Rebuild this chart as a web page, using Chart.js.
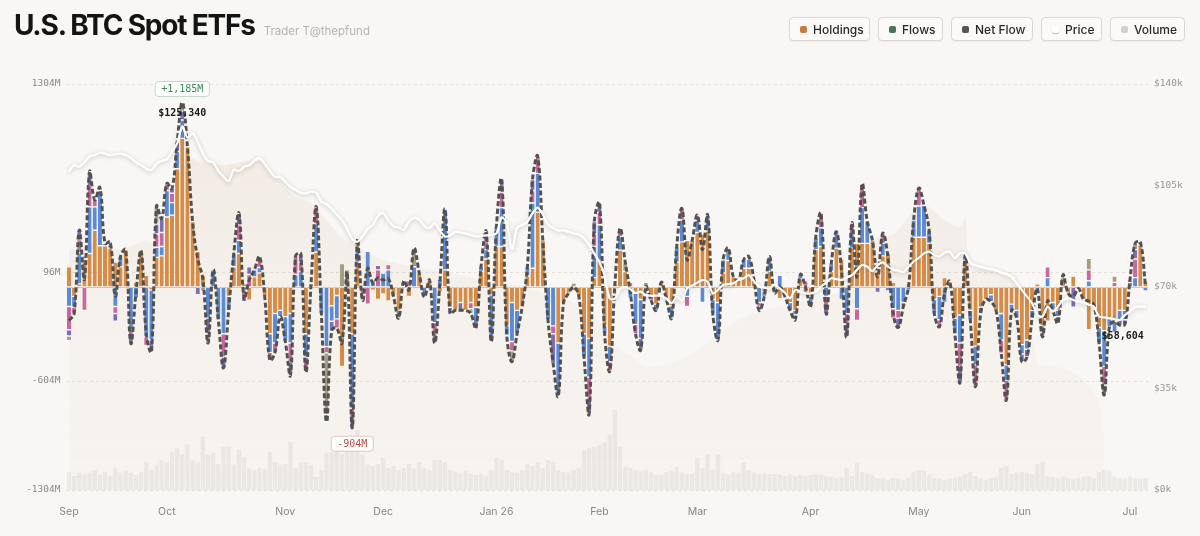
<!DOCTYPE html>
<html><head><meta charset="utf-8">
<script src="https://cdn.jsdelivr.net/npm/chart.js@4.4.1/dist/chart.umd.min.js"></script>
<style>
html,body{margin:0;padding:0;background:#f8f7f5;width:1200px;height:536px;overflow:hidden;font-family:Inter,"Noto Sans",sans-serif;}
#wrap{position:relative;width:1200px;height:536px;}
#c{position:absolute;left:0;top:0;}
.title{position:absolute;left:14px;top:9px;display:flex;align-items:baseline;white-space:nowrap;}
.title h1{margin:0;font:700 28px/1.2 Inter,sans-serif;letter-spacing:-1.2px;color:#141414;}
.title span{margin-left:9px;font:400 11.5px Inter,sans-serif;color:#b7b3ad;}
.legend{position:absolute;top:17px;left:789px;display:flex;gap:8px;}
.btn{box-sizing:border-box;height:24px;border:1px solid #dcd8d2;border-radius:4px;background:#fbfaf8;display:flex;align-items:center;padding:0 0 0 10px;font:500 12px Inter,sans-serif;color:#2a2a2a;box-shadow:0 1px 1px rgba(0,0,0,.05);}
.sw{width:7px;height:7px;border-radius:2px;margin-right:6px;}
</style></head>
<body><div id="wrap">
<canvas id="c" width="1200" height="536"></canvas>
<div class="title"><h1>U.S. BTC Spot ETFs</h1><span>Trader T@thepfund</span></div>
<div class="legend">
 <div class="btn" style="width:81px"><i class="sw" style="background:#c97b3d"></i>Holdings</div>
 <div class="btn" style="width:65px"><i class="sw" style="background:#3d7a55"></i>Flows</div>
 <div class="btn" style="width:82px"><i class="sw" style="background:#575551"></i>Net Flow</div>
 <div class="btn" style="width:61px"><i class="sw" style="background:#fff;box-shadow:0 1px 1px rgba(0,0,0,.25)"></i>Price</div>
 <div class="btn" style="width:75px"><i class="sw" style="background:#d3d0ca"></i>Volume</div>
</div>
</div>
<script>
// ---- axis / tick data ----
const monthStarts = [0,19,42,61,83,103,122,144,165,185,206];
const monthLabels = ['Sep','Oct','Nov','Dec','Jan 26','Feb','Mar','Apr','May','Jun','Jul'];
const flowTicks = [1304, 96, -604, -1304];
const priceTicks = [0, 35000, 70000, 105000, 140000];

// ---- daily flows by fund ($M) ----
const ibit = [130,-60,20,180,215,365,265,265,250,160,
130,240,0,30,233,75,-20,190,200,450,
462,760,955,900,420,230,75,0,0,0,
0,-60,130,215,20,-85,65,90,-60,-300,
-170,-150,-190,-170,0,0,-300,20,225,0,
0,-120,-55,-510,-20,-300,160,0,0,-20,
-80,-45,-90,-60,-150,10,-60,0,90,0,
45,0,-30,110,-130,-150,-100,-150,-100,-130,
100,180,-50,260,260,-250,-100,-150,-125,70,
120,480,300,0,0,-360,-105,-40,-25,-60,
-300,-330,60,170,-250,-380,20,237,100,30,
-40,-80,-30,-60,-110,30,-80,-120,160,290,
300,300,350,340,360,-80,-100,90,170,65,
45,120,120,45,0,-30,100,-20,-75,-60,
-100,-150,50,-40,-60,240,260,0,100,250,
180,0,250,280,280,280,300,100,200,220,
30,0,0,20,320,320,320,280,-80,-60,
60,35,-200,-180,170,-150,-380,-130,-80,-50,
-150,-170,-500,-110,-150,-370,-340,-150,20,-250,
-220,-100,-150,60,-40,70,-10,-80,-275,-125,
-260,-280,-200,-220,-150,-150,0,0,270,38];
const fbtc = [-125,-70,200,20,300,150,355,15,20,-125,
65,0,-275,-70,0,-320,-320,65,60,170,
80,110,118,0,0,0,0,-200,95,-210,
-300,-90,85,85,-20,0,45,35,0,-120,
-190,-40,-160,-190,80,100,-150,0,180,-170,
-383,-100,-150,0,0,-480,80,0,230,45,
0,90,110,0,-50,0,0,130,0,-55,
0,-230,50,390,-20,0,0,0,0,-135,
30,60,-300,130,250,-60,-250,-150,0,60,
420,250,0,-210,-250,-340,0,0,0,0,
-150,-250,200,230,-50,-100,0,85,0,-70,
-200,-250,0,0,-40,0,0,-80,100,140,
-60,0,80,-100,102,-90,-240,85,80,0,
0,55,60,0,-100,-30,95,-20,75,0,
-50,-30,30,0,-65,80,120,-60,50,105,
-80,-170,90,-140,230,140,0,0,80,-25,
-140,-150,-100,-20,110,200,205,85,-90,-150,
-100,0,-100,-180,30,-60,-120,-40,0,-45,
0,-170,-100,-40,-50,-60,-60,-50,-30,-40,
60,-50,-40,17,0,0,0,0,40,0,
-100,-230,-55,-72,-60,-60,30,60,20,-25];
const arkb = [-150,-40,85,-150,135,45,0,0,0,-45,
0,0,-45,0,0,-55,0,85,90,45,
60,0,0,0,0,0,0,0,15,0,
-150,0,0,100,-40,80,0,70,0,-50,
-60,0,0,-120,120,60,-95,0,110,0,
-40,0,-60,0,0,-74,0,-50,-110,0,
110,0,35,0,0,30,40,0,0,0,
0,-70,0,0,-20,0,0,0,-40,0,
0,50,0,0,100,0,-60,0,0,0,
80,110,0,0,-50,0,0,0,0,0,
0,-130,80,80,0,-60,0,55,0,0,
-60,0,0,0,0,0,0,0,0,75,
-65,0,32,0,0,0,0,0,0,0,
0,0,15,0,-25,0,0,0,0,0,
0,-30,0,40,0,0,93,-60,0,0,
0,-70,70,-75,150,0,0,0,65,0,
-60,-50,-25,0,0,115,0,0,0,-45,
0,0,0,-150,0,0,-140,0,0,0,
0,-85,-125,0,0,0,0,0,0,-30,
70,0,-43,0,0,0,0,0,70,10,
0,-120,0,30,0,0,15,120,0,0];
const bitb = [-40,0,60,0,90,0,20,0,20,-50,
0,0,-40,0,0,0,-75,65,90,0,
30,60,55,0,0,-50,0,-100,0,0,
-70,0,0,73,-33,50,0,0,0,0,
0,0,0,-85,0,55,0,0,0,0,
0,-60,0,0,0,-50,0,-35,0,0,
30,0,0,0,0,0,0,0,0,0,
0,-60,0,0,0,0,-50,0,0,0,
0,65,0,0,80,0,0,0,0,0,
70,0,0,0,-190,0,0,0,0,0,
0,-100,80,60,0,0,0,0,0,0,
0,-75,0,-25,0,0,0,0,0,0,
0,0,0,0,0,0,0,0,0,0,
0,0,0,0,-25,0,0,0,0,0,
0,0,0,0,0,0,0,-50,0,0,
0,-80,0,0,0,0,0,-35,0,0,
0,-60,0,0,0,0,0,0,0,0,
0,0,0,-100,0,0,0,0,0,0,
0,0,0,0,0,-50,-50,0,0,0,
0,0,0,0,0,-130,0,0,0,0,
0,0,0,0,-35,-30,0,60,0,0];
const gbtc = [-30,0,0,0,0,0,0,0,0,0,
0,0,0,0,0,0,0,115,0,0,
0,0,57,0,0,0,-25,-60,0,0,
0,0,0,0,0,0,0,0,0,0,
0,0,0,0,0,0,0,0,0,0,
-397,0,0,150,110,0,60,0,0,0,
0,0,0,0,0,0,0,120,0,-10,
0,0,0,0,0,0,0,0,-30,0,
0,0,0,0,0,0,-70,0,0,0,
0,0,0,0,0,0,0,0,25,0,
0,0,0,0,0,0,0,0,60,0,
0,0,30,0,0,0,0,0,0,0,
0,0,0,0,0,0,0,0,0,0,
0,0,0,0,0,0,0,0,0,0,
0,0,0,0,0,0,0,0,0,0,
0,0,0,0,0,0,0,0,0,0,
0,0,0,0,0,0,0,0,0,0,
0,0,0,0,0,0,0,0,0,0,
0,0,0,0,0,0,0,0,0,0,
0,0,0,0,0,0,0,0,75,0,
0,0,0,40,0,0,0,40,0,0];
const others = [0,0,0,0,0,0,0,0,0,0,
0,0,0,0,0,0,0,0,0,0,
0,0,0,0,0,0,0,0,0,0,
0,0,0,0,0,0,0,0,0,0,
0,0,0,0,0,0,0,0,0,0,
-45,0,0,0,0,0,0,0,0,0,
0,0,0,0,0,0,0,0,0,0,
0,0,0,0,0,0,0,0,0,0,
0,0,0,0,0,0,0,0,0,0,
0,0,0,0,0,0,0,0,0,0,
0,0,0,0,0,0,0,0,0,0,
0,0,0,0,0,0,0,0,0,0,
0,0,0,0,0,0,0,0,0,0,
0,0,0,0,0,0,0,0,0,0,
0,0,0,0,0,0,0,0,0,0,
0,0,0,0,0,0,0,0,0,0,
0,0,0,0,0,0,0,0,0,0,
0,0,0,0,0,0,0,0,0,0,
0,0,0,0,0,0,0,0,0,0,
0,0,0,0,0,0,0,0,0,0,
0,-63,0,0,0,0,0,0,0,0];
// ---- daily net flow ($M) ----
const netFlow = [-215,-170,365,50,740,560,640,280,290,-60,
195,240,-360,-40,233,-300,-415,520,440,665,
632,930,1185,900,420,180,50,-360,110,-210,
-520,-150,215,473,-73,45,110,195,-60,-470,
-420,-190,-350,-565,200,215,-545,20,515,-170,
-865,-280,-265,-360,90,-904,300,-85,120,25,
60,45,55,-60,-200,40,-20,250,90,-65,
45,-360,20,500,-170,-150,-150,-150,-170,-265,
130,355,-350,390,690,-310,-480,-300,-125,130,
690,840,300,-210,-490,-700,-105,-40,0,-60,
-450,-810,420,540,-300,-540,20,377,160,-40,
-300,-405,0,-85,-150,30,-80,-200,260,505,
175,300,462,240,462,-170,-340,175,250,65,
45,175,195,45,-150,-60,195,-40,0,-60,
-150,-210,80,0,-125,320,473,-170,150,355,
100,-320,410,65,660,420,300,65,345,195,
-170,-260,-125,0,430,635,525,365,-170,-255,
-40,35,-300,-610,200,-210,-640,-170,-80,-95,
-150,-425,-725,-150,-200,-480,-450,-200,-10,-320,
-90,-150,-233,77,-40,-60,-10,-80,-90,-115,
-360,-693,-255,-222,-245,-240,45,280,290,13];
// ---- BTC price ($) ----
const btcPrice = [109800,112000,111500,113000,115000,115500,116300,116000,115500,115800,
116000,115500,114500,113000,112000,110800,110300,112500,113500,114000,
116600,119500,125340,121500,123000,120000,116000,113500,113000,110000,
108000,106500,110500,110000,111500,112000,113500,114400,112500,110000,
108000,108000,106300,104500,103500,102500,102300,102900,102500,99500,
98500,97000,95000,93000,90000,86500,85600,87500,90000,91500,
94500,95500,93000,91000,90500,89700,92500,93800,93200,91000,
90300,92000,89500,87400,87800,89000,88800,88500,88000,87400,
87600,87800,88000,88500,94000,92000,83000,90500,91400,92500,
95500,97400,95000,91500,90300,89500,89500,89000,88500,88000,
86800,84500,81500,78500,74000,66000,66000,69400,70000,69200,
68000,68400,67200,67000,67000,66900,66000,64400,66700,65500,
69500,70500,71500,72400,71800,67800,69000,70700,71000,71300,
72400,73000,74100,72000,70100,69800,69500,70700,69500,68000,
66100,69000,68500,67800,67800,68500,70100,71500,73000,72700,
72400,73200,74100,75900,77600,77000,75500,77500,78500,77000,
76000,75700,75200,77000,78800,80000,81600,82200,81000,80500,
81800,82200,79900,81600,81600,78300,77500,77000,76500,76200,
75800,75000,74500,73500,71300,69000,66700,64400,60500,59800,
63200,61500,63200,65500,66100,65500,65000,64700,63900,63200,
59800,59500,59200,58900,58604,60300,61500,63200,63200,63200];
// ---- daily trading volume ($B) ----
const volume = [4.5,3.5,4.3,3.8,4.3,5,3.8,4.5,3.5,5.5,
4.3,4.8,4.3,3.8,4.5,7,5,6.3,7.5,7,
9.5,10.5,9,11.3,7.5,7,13.3,8.8,9.3,6.5,
10.8,10.8,6.3,10,8.3,5.5,5,5.5,5.3,9.5,
7,6.3,6.5,12,5.5,6.8,7,6.3,3.3,5,
9.3,9.5,10,9,10.5,11.3,15,8.8,6.3,6,
6.5,8,5.5,6,5,5.5,6.5,5.3,7,5.5,
5,7.5,7.5,7,5,4.5,4.3,4.8,4,3.8,
4,3.5,5,8,7.5,5,4.5,4.3,5,6.5,
6,7,5.5,7.5,7,5,4.5,4.3,5,5.5,
10,10.5,10.8,11.3,11.8,13.8,20,10.8,5.8,5.5,
5,4.8,5,4.5,3.8,3.8,4.5,4.8,5.8,4.3,
4,4,8,5.5,8.8,5,8.8,4.3,4,4.5,
4.3,6.8,5,4.3,4,4.3,4,4,3.8,3.5,
3.8,3.5,3.8,3.5,3.8,4,3.8,3.5,3.3,3,
3.3,5.5,3.5,6.8,4.5,4,3.8,3,2.8,2.5,
3,2.8,2.5,3,4.5,5,4.8,3.8,3,2.8,
2.5,2.8,3,3.3,4,4.5,3.5,2.8,2.5,3,
3.3,5.5,5.8,4,4.3,4.5,4.3,4,6.5,7,
3.5,3.3,3,3.3,3,2.8,3,3.3,3.5,3,
4.5,5,4.8,3.3,3,2.8,3.3,3,2.8,3];
// ---- holdings value band ($k), sampled days ----
const holdIdx = [0,3,6,9,12,15,18,21,22,23,26,30,33,37,40,44,47,50,53,56,60,64,70,76,82,88,94,100,103,106,110,112,115,120,125,130,135,140,145,150,153,157,160,164,167,170,173,174,175,178,183,186,188,190,194,198,200,201];
const holdVal = [83,84,85,83,84,86,82,80,110,114.5,113,112,113,113.5,108,101,99,93,87,84,80,78,76,74,72,70,67,63,58,50,45,42.4,43,46,52,58.6,62,64,66,69,78,87,88,96,97.5,93,90.7,94,77,76,72.4,66.7,44,43,41.4,36,30,18];

const categories = netFlow.map((_, i) => i);
const holdings = categories.map(() => null);
holdIdx.forEach((k, j) => { holdings[k] = holdVal[j]; });

const MONO = '"DejaVu Sans Mono", monospace';
const fmt = v => Math.abs(v).toLocaleString('en-US');

const seg = (label, data, color) => ({
  type: 'bar', label, data, backgroundColor: color,
  borderColor: 'rgba(255,255,255,0.8)', borderWidth: {top: 0.7, bottom: 0.7, left: 0, right: 0},
  borderSkipped: false, stack: 'flows', yAxisID: 'y', order: 5,
  barPercentage: 0.8, categoryPercentage: 1
});

const zeroLine = {
  id: 'zeroLine',
  beforeDatasetsDraw(chart) {
    const {ctx, chartArea: a} = chart;
    const y = Math.round(chart.scales.y.getPixelForValue(0)) + 0.5;
    ctx.save(); ctx.strokeStyle = '#cdc8c0'; ctx.lineWidth = 1;
    ctx.beginPath(); ctx.moveTo(a.left, y); ctx.lineTo(a.right, y); ctx.stroke(); ctx.restore();
  }
};
const priceShadow = {
  id: 'priceShadow',
  beforeDatasetDraw(chart, args) {
    if (chart.data.datasets[args.index].label === 'Price') {
      const c = chart.ctx; c.save();
      c.shadowColor = 'rgba(70,60,50,0.28)'; c.shadowBlur = 4; c.shadowOffsetY = 1;
    }
  },
  afterDatasetDraw(chart, args) {
    if (chart.data.datasets[args.index].label === 'Price') chart.ctx.restore();
  }
};
function pill(ctx, text, cx, cy, color, border) {
  const w = ctx.measureText(text).width + 12, h = 15;
  ctx.beginPath(); ctx.roundRect(cx - w / 2, cy - h / 2, w, h, 3);
  ctx.fillStyle = '#fdfdfc'; ctx.fill();
  ctx.strokeStyle = border; ctx.lineWidth = 1; ctx.stroke();
  ctx.fillStyle = color; ctx.fillText(text, cx, cy + 0.5);
}
const annot = {
  id: 'annot',
  afterDatasetsDraw(chart) {
    const {ctx} = chart, xs = chart.scales.x, yn = chart.scales.yNet, yp = chart.scales.yP;
    let iMax = 0, iMin = 0, pMax = 0, pMin = 0;
    netFlow.forEach((v, i) => { if (v > netFlow[iMax]) iMax = i; if (v < netFlow[iMin]) iMin = i; });
    btcPrice.forEach((v, i) => { if (v > btcPrice[pMax]) pMax = i; if (v < btcPrice[pMin]) pMin = i; });
    ctx.save();
    ctx.textAlign = 'center'; ctx.textBaseline = 'middle';
    ctx.font = '500 10px ' + MONO;
    pill(ctx, '+' + fmt(netFlow[iMax]) + 'M', xs.getPixelForValue(iMax), yn.getPixelForValue(netFlow[iMax]) - 13.5, '#3f8a5c', '#c6d9cc');
    pill(ctx, '-' + fmt(netFlow[iMin]) + 'M', xs.getPixelForValue(iMin), yn.getPixelForValue(netFlow[iMin]) + 16, '#c0504a', '#e5c2bf');
    ctx.font = 'bold 10px ' + MONO; ctx.fillStyle = '#1c1c1c';
    ctx.fillText('$' + fmt(btcPrice[pMax]), xs.getPixelForValue(pMax), yp.getPixelForValue(btcPrice[pMax]) - 13.5);
    ctx.fillText('$' + fmt(btcPrice[pMin]), xs.getPixelForValue(pMin) + 3, yp.getPixelForValue(btcPrice[pMin]) + 16);
    ctx.restore();
  }
};

new Chart(document.getElementById('c'), {
  data: {
    labels: categories,
    datasets: [
      {type: 'line', label: 'Holdings', data: holdings, yAxisID: 'yArea', order: 10,
       spanGaps: true, tension: 0.3, pointRadius: 0, borderWidth: 0, fill: 'start',
       backgroundColor: (c) => {
         const a = c.chart.chartArea; if (!a) return 'rgba(218,170,125,0.1)';
         const g = c.chart.ctx.createLinearGradient(0, a.top, 0, a.bottom);
         g.addColorStop(0, 'rgba(214,165,118,0.17)'); g.addColorStop(0.55, 'rgba(214,165,118,0.07)'); g.addColorStop(1, 'rgba(214,165,118,0.035)');
         return g;
       }},
      {type: 'bar', label: 'Volume', data: volume, yAxisID: 'yVol', order: 9, grouped: false,
       backgroundColor: 'rgba(175,170,160,0.16)', barPercentage: 0.85, categoryPercentage: 1},
      seg('IBIT', ibit, '#d68b47'),
      seg('FBTC', fbtc, '#5b8bd8'),
      seg('ARKB', arkb, '#c8689c'),
      seg('BITB', bitb, '#7f6db3'),
      seg('GBTC', gbtc, '#a59e84'),
      seg('Others', others, '#5fa57a'),
      {type: 'line', label: 'Net Flow', data: netFlow, yAxisID: 'yNet', order: 1,
       borderColor: '#53514d', borderWidth: 3, borderDash: [5, 2.5], tension: 0.4, pointRadius: 0, fill: false},
      {type: 'line', label: 'Price', data: btcPrice, yAxisID: 'yP', order: 0,
       borderColor: '#ffffff', borderWidth: 2.2, tension: 0.3, pointRadius: 0, fill: false}
    ]
  },
  options: {
    responsive: false, animation: false, events: [],
    layout: {padding: {top: 84, left: 0, right: 0, bottom: 0}},
    plugins: {legend: {display: false}, tooltip: {enabled: false}},
    scales: {
      x: {type: 'category', stacked: true, offset: true,
          grid: {display: false, drawTicks: false}, border: {display: false},
          ticks: {autoSkip: false, maxRotation: 0, minRotation: 0, padding: 16, color: '#8a8680',
                  font: {family: 'Inter', size: 10.5},
                  callback: (v, i) => { const k = monthStarts.indexOf(i); return k >= 0 ? monthLabels[k] : ''; }},
          afterFit: s => { s.height = 46; }},
      y: {position: 'left', stacked: true, min: -1304, max: 1304,
          afterBuildTicks: s => { s.ticks = flowTicks.map(v => ({value: v})); },
          grid: {color: '#e4e0da', lineWidth: 1, drawTicks: false},
          border: {display: false, dash: [3, 3]},
          ticks: {padding: 6, color: '#8d8983', font: {family: MONO, size: 9.5}, callback: v => v + 'M'},
          afterFit: s => { s.width = 66.4; }},
      yP: {position: 'right', min: 0, max: 140000,
           afterBuildTicks: s => { s.ticks = priceTicks.map(v => ({value: v})); },
           grid: {display: false, drawTicks: false}, border: {display: false},
           ticks: {padding: 6, color: '#9a968f', font: {family: MONO, size: 9.5}, callback: v => '$' + (v / 1000) + 'k'},
           afterFit: s => { s.width = 52; }},
      yNet: {display: false, min: -1304, max: 1304},
      yVol: {display: false, min: 0, max: 101.5},
      yArea: {display: false, min: 0, max: 140}
    }
  },
  plugins: [zeroLine, priceShadow, annot]
});
</script>
</body></html>
